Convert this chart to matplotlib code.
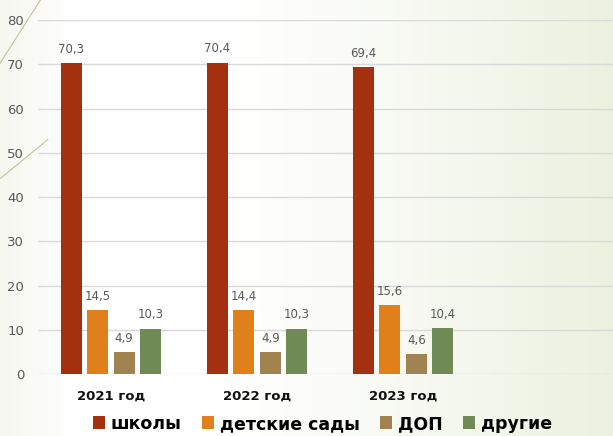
import numpy as np
import matplotlib.pyplot as plt
from matplotlib.lines import Line2D

years = ['2021 год', '2022 год', '2023 год']
series = ['школы', 'детские сады', 'ДОП', 'другие']
schools = [70.3, 70.4, 69.4]
kindergartens = [14.5, 14.4, 15.6]
dop = [4.9, 4.9, 4.6]
other = [10.3, 10.3, 10.4]
colors = ['#A3300F', '#E0801B', '#A08350', '#6F8A55']

fig = plt.figure(figsize=(6.13, 4.36), dpi=100)

# background gradient (white to pale green at the right)
bg = fig.add_axes([0, 0, 1, 1], zorder=-10)
xs = np.linspace(0, 1, 300)
g = np.clip((xs - 0.35) / 0.65, 0, 1) ** 1.3 + np.clip((0.12 - xs) / 0.12, 0, 1) * 0.5
top = np.array([1.0, 1.0, 1.0])
edge = np.array([0.925, 0.945, 0.875])
img = top[None, :] * (1 - g[:, None]) + edge[None, :] * g[:, None]
bg.imshow(img[None, :, :], aspect='auto', extent=[0, 1, 0, 1])
bg.set_axis_off()

# decorative lines on the left
fig.add_artist(Line2D([0.0, 0.066], [0.855, 1.0], color='#C9BFA0', lw=0.8))
fig.add_artist(Line2D([0.0, 0.078], [0.59, 0.68], color='#C9BFA0', lw=0.8))

ax = fig.add_axes([0.062, 0.142, 0.953, 0.812])
ax.patch.set_alpha(0)

x = np.arange(len(years))
width = 0.143
step = 0.181
values = [schools, kindergartens, dop, other]
for i, (name, vals) in enumerate(zip(series, values)):
    pos = x + (i - 1.5) * step
    bars = ax.bar(pos, vals, width, color=colors[i], label=name, zorder=3)
    for b, v in zip(bars, vals):
        ax.text(b.get_x() + b.get_width() / 2, v + 1.6, str(v).replace('.', ','),
                ha='center', va='bottom', fontsize=8.5, color='#595959')

ax.set_ylim(0, 80)
ax.set_yticks(range(0, 81, 10))
ax.set_xlim(-0.5, 3.5)
ax.set_xticks(x)
ax.set_xticklabels(years, fontsize=9.5, fontweight='bold', color='#111111')
ax.tick_params(axis='y', length=0, labelsize=9.5, labelcolor='#595959', pad=10)
ax.tick_params(axis='x', length=0, pad=11)
ax.grid(axis='y', color='#D9D9D9', lw=1, zorder=0)
for s in ax.spines.values():
    s.set_visible(False)

fig.legend(loc='center', bbox_to_anchor=(0.526, 0.028), ncol=4, frameon=False,
           prop={'weight': 'bold', 'size': 12.5}, handlelength=0.7, handleheight=0.8,
           handletextpad=0.3, columnspacing=1.2)

fig.savefig('out.png', dpi=100)
